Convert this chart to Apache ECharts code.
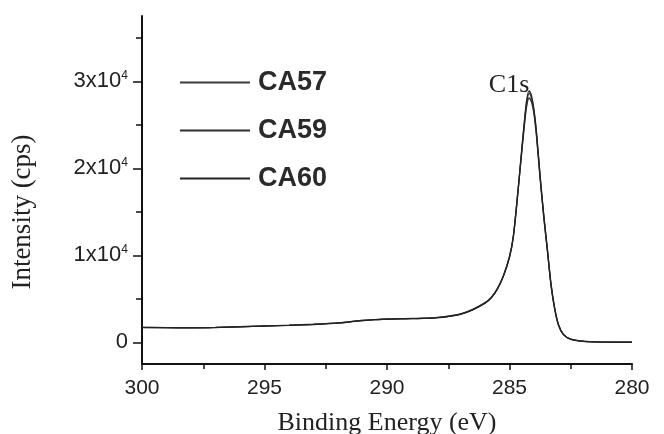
<!DOCTYPE html>
<html><head><meta charset="utf-8">
<script src="https://cdn.jsdelivr.net/npm/echarts@6/dist/echarts.min.js"></script>
<style>html,body{margin:0;padding:0;background:#fff}#c{width:664px;height:434px}</style>
</head><body><div id="c"></div>
<script>
var energy = [300,299,298,297,296,295,294,293,292,291.5,291,290.5,290,289.5,289,288.5,288,287.5,287,286.5,286,285.75,285.5,285.25,285,284.85,284.7,284.55,284.4,284.3,284.2,284.1,284.0,283.9,283.75,283.6,283.45,283.3,283.15,283.0,282.8,282.5,282.0,281.5,281,280.5,280];
var ca57 = [1700,1680,1660,1700,1780,1870,1950,2050,2200,2350,2500,2600,2650,2700,2720,2750,2820,2970,3220,3750,4500,5100,6100,7600,9800,12000,16000,20500,25000,27500,28600,28000,26500,24000,19000,14500,10500,6500,3800,2000,900,350,120,50,20,0,0];
var ca59 = [1720,1690,1680,1710,1790,1880,1960,2070,2220,2370,2520,2610,2670,2710,2740,2770,2840,2990,3250,3780,4550,5150,6150,7650,9900,12100,16100,20400,24700,27100,28100,27600,26200,23700,18800,14300,10400,6400,3700,1950,880,340,110,40,15,0,0];
var ca60 = [1690,1670,1650,1690,1770,1860,1940,2040,2190,2340,2490,2590,2640,2690,2710,2740,2810,2960,3210,3730,4480,5080,6080,7580,9750,11950,15900,20600,25200,27800,28900,28300,26700,24200,19100,14600,10600,6600,3850,2020,910,360,125,50,20,0,0];
var seriesNames = ['CA57','CA59','CA60'];
var yLabelValues = [0,10000,20000,30000];
var yMinorValues = [5000,15000,25000,35000];
var peakLabel = 'C1s';

function pairs(v){ return energy.map(function(e,i){ return [e, v[i]]; }); }
var colors = ['#3c3c3c','#2e2e2e','#222222'];
var data = [ca57, ca59, ca60];

var chart = echarts.init(document.getElementById('c'));
var series = seriesNames.map(function(n,i){
  var s = {
    name: n, type: 'line', data: pairs(data[i]), showSymbol: false, smooth: 0.3,
    lineStyle: {color: colors[i], width: 1.3}, itemStyle: {color: colors[i]}, yAxisIndex: 0
  };
  if (i === 0) {
    s.markPoint = {
      symbol: 'circle', symbolSize: 0,
      data: [{coord: [284.2, 28600]}],
      label: {show: true, formatter: peakLabel, position: 'top', distance: 0, offset: [-20, 5],
        fontFamily: 'Liberation Serif', fontSize: 26, color: '#222'}
    };
  }
  return s;
});

chart.setOption({
  animation: false,
  backgroundColor: '#fff',
  grid: {left: 142, right: 32, top: 16, bottom: 70, containLabel: false, outerBoundsMode: 'none'},
  legend: {
    orient: 'vertical', left: 175, top: 64, itemWidth: 70, itemHeight: 2, itemGap: 21,
    icon: 'rect', data: seriesNames,
    textStyle: {fontFamily: 'Liberation Sans', fontSize: 27, fontWeight: 'bold', color: '#2a2a2a', padding: [0,0,0,3]}
  },
  xAxis: {
    type: 'value', min: 280, max: 300, interval: 5, inverse: true,
    axisLine: {onZero: false, lineStyle: {color: '#111', width: 2}},
    axisTick: {length: 6, lineStyle: {color: '#111', width: 1.5}},
    minorTick: {show: true, splitNumber: 2, length: 5, lineStyle: {color: '#111', width: 1.5}},
    splitLine: {show: false},
    axisLabel: {margin: 14, fontFamily: 'Liberation Sans', fontSize: 21, color: '#222'},
    name: 'Binding Energy (eV)', nameLocation: 'middle', nameGap: 46,
    nameTextStyle: {fontFamily: 'Liberation Serif', fontSize: 26, color: '#222'}
  },
  yAxis: [{
    type: 'value', min: -2500, max: 37500,
    axisLine: {show: true, onZero: false, lineStyle: {color: '#111', width: 2}},
    axisTick: {show: true, length: 9, customValues: yLabelValues, lineStyle: {color: '#111', width: 1.5}},
    splitLine: {show: false},
    axisLabel: {
      customValues: yLabelValues, margin: 14, fontFamily: 'Liberation Sans', fontSize: 22, color: '#222',
      formatter: function(v){ if (v === 0) return '0'; return (v/10000) + 'x10{sup|4}'; },
      rich: {sup: {fontSize: 12, fontFamily: 'Liberation Sans', color: '#222', padding: [0,0,12,0]}}
    },
    name: 'Intensity (cps)', nameLocation: 'middle', nameGap: 106,
    nameTextStyle: {fontFamily: 'Liberation Serif', fontSize: 27, color: '#222', padding: [0,44,0,0]}
  }, {
    type: 'value', min: -2500, max: 37500, position: 'left',
    axisLine: {show: false},
    axisTick: {show: true, length: 6, customValues: yMinorValues, lineStyle: {color: '#111', width: 1.5}},
    axisLabel: {show: false}, splitLine: {show: false}
  }],
  series: series
});
</script></body></html>
